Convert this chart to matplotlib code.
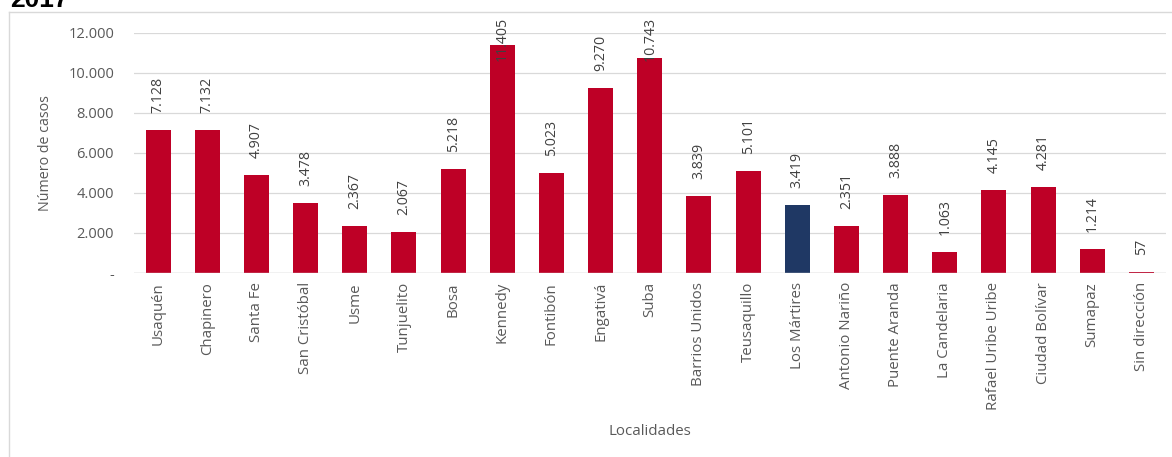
import matplotlib
matplotlib.use("Agg")
import matplotlib.pyplot as plt
from matplotlib.lines import Line2D

localidades = ["Usaquén", "Chapinero", "Santa Fe", "San Cristóbal", "Usme", "Tunjuelito",
               "Bosa", "Kennedy", "Fontibón", "Engativá", "Suba", "Barrios Unidos",
               "Teusaquillo", "Los Mártires", "Antonio Nariño", "Puente Aranda",
               "La Candelaria", "Rafael Uribe Uribe", "Ciudad Bolívar", "Sumapaz",
               "Sin dirección"]
casos = [7128, 7132, 4907, 3478, 2367, 2067, 5218, 11405, 5023, 9270, 10743, 3839,
         5101, 3419, 2351, 3888, 1063, 4145, 4281, 1214, 57]
destacado = "Los Mártires"
yticks = [0, 2000, 4000, 6000, 8000, 10000, 12000]

RED = "#BE0026"
NAVY = "#1F3864"
TXT = "#595959"
FONT = "Open Sans"

def fmt(v):
    return "-" if v == 0 else f"{v:,}".replace(",", ".")

W, H, DPI = 1172, 457, 100
fig = plt.figure(figsize=(W / DPI, H / DPI), dpi=DPI)
ax = fig.add_axes([133.5 / W, 1 - 273 / H, (1166 - 133.5) / W, 240 / H])

x = list(range(len(localidades)))
colors = [NAVY if n == destacado else RED for n in localidades]
ax.bar(x, casos, width=0.51, color=colors, zorder=3)

ax.set_xlim(-0.5, len(localidades) - 0.5)
ax.set_ylim(0, 12000)
ax.set_yticks(yticks)
ax.set_yticklabels([fmt(v) for v in yticks], fontsize=10.5, color=TXT, family=FONT)
ax.set_xticks(x)
ax.set_xticklabels(localidades, rotation=90, fontsize=10.8, color=TXT, family=FONT,
                   va="top", ha="center")
ax.tick_params(axis="both", length=0)
ax.tick_params(axis="x", pad=6.5)
ax.tick_params(axis="y", pad=14)
for s in ax.spines.values():
    s.set_visible(False)
ax.grid(axis="y", color="#D9D9D9", linewidth=0.9, zorder=0)
ax.axhline(0, color="#D0D0D0", linewidth=1.0, zorder=4)

ax.set_ylabel("Número de casos", fontsize=10.3, color=TXT, family=FONT)
ax.set_xlabel("Localidades", fontsize=10.8, color=TXT, family=FONT)
ax.xaxis.set_label_coords(0.5, -(424 - 273) / 240)
ax.yaxis.set_label_coords(-(133.5 - 53) / (1166 - 133.5), 0.5)

# value labels
texts = []
for xi, v in zip(x, casos):
    t = ax.annotate(fmt(v), (xi, v), xytext=(0, 17 * 72 / DPI), textcoords="offset points",
                    rotation=90, ha="center", va="bottom", fontsize=10.2, color="#404040",
                    family=FONT, annotation_clip=False, zorder=5)
    texts.append(t)

fig.canvas.draw()
renderer = fig.canvas.get_renderer()
top_limit = H - 17  # pixel from bottom
for t in texts:
    bb = t.get_window_extent(renderer)
    if bb.y1 > top_limit:
        shift = (bb.y1 - top_limit) * 72 / DPI
        ox, oy = t.xyann
        t.xyann = (ox, oy - shift)

# chart frame (left and top edges) and title
fig.add_artist(Line2D([8.5 / W, 8.5 / W], [0, 1 - 12 / H], transform=fig.transFigure,
                      color="#D9D9D9", linewidth=1.0))
fig.add_artist(Line2D([8.5 / W, 1], [1 - 12 / H, 1 - 12 / H], transform=fig.transFigure,
                      color="#D9D9D9", linewidth=1.0))
fig.text(10 / W, 1 - 7 / H, "2017", fontsize=19, fontweight="bold", color="black",
         family="Liberation Sans", ha="left", va="baseline")

fig.savefig("out.png", dpi=DPI)
